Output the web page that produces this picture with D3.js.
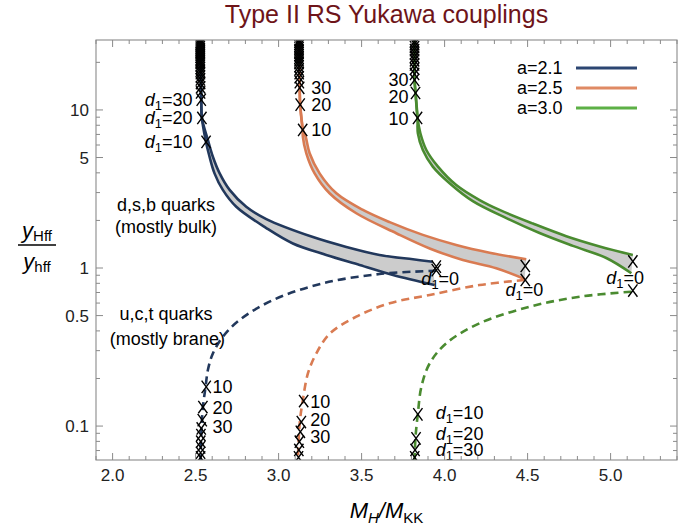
<!DOCTYPE html>
<html>
<head>
<meta charset="utf-8">
<script src="https://cdn.jsdelivr.net/npm/d3@7/dist/d3.min.js"></script>
<style>
  body { margin: 0; background: #fff; }
  text { font-family: "Liberation Sans", Arial, sans-serif; }
</style>
</head>
<body>
<script>
// values: [M_H/M_KK, y_Hff/y_hff]
var seriesNames = ["a=2.1", "a=2.5", "a=3.0"];

// outer edge of each bulk band (right at the top, upper at the end) and inner edge
var blueOuter = [[2.530,27.7],[2.534,11.6],[2.538,8.9],[2.574,6.46],[2.604,5.06],[2.645,3.97],[2.705,3.12],[2.805,2.44],[2.926,2.04],[3.207,1.57],[3.408,1.36],[3.608,1.21],[3.809,1.135],[3.929,1.096]];
var blueInner = [[2.530,27.7],[2.534,11.6],[2.538,8.9],[2.560,6.46],[2.584,5.06],[2.614,3.97],[2.664,3.12],[2.745,2.44],[2.926,1.79],[3.086,1.43],[3.287,1.21],[3.488,1.045],[3.689,0.903],[3.940,0.78]];
var blueBrane = [[3.950,0.961],[3.608,0.916],[3.267,0.80],[2.966,0.627],[2.765,0.469],[2.664,0.367],[2.604,0.288],[2.574,0.226],[2.560,0.177],[2.544,0.132],[2.536,0.099],[2.530,0.061]];

var orangeOuter = [[3.123,27.7],[3.127,13.8],[3.130,10.8],[3.147,7.47],[3.163,6.78],[3.187,5.32],[3.247,3.97],[3.348,2.97],[3.508,2.33],[3.669,1.95],[3.869,1.62],[4.070,1.40],[4.271,1.25],[4.492,1.135]];
var orangeInner = [[3.123,27.7],[3.127,13.8],[3.130,10.8],[3.145,7.47],[3.146,6.78],[3.167,5.32],[3.217,3.97],[3.307,2.97],[3.468,2.22],[3.709,1.66],[3.910,1.33],[4.110,1.124],[4.311,0.996],[4.482,0.852]];
var orangeBrane = [[4.482,0.840],[4.211,0.78],[3.910,0.675],[3.669,0.598],[3.468,0.492],[3.310,0.386],[3.227,0.288],[3.177,0.216],[3.146,0.146],[3.127,0.104],[3.116,0.061]];

var greenOuter = [[3.819,27.7],[3.819,15.5],[3.825,12.8],[3.837,8.9],[3.854,7.12],[3.890,5.58],[3.960,4.38],[4.070,3.35],[4.211,2.69],[4.331,2.33],[4.532,1.91],[4.733,1.59],[4.934,1.37],[5.134,1.21]];
var greenInner = [[3.819,27.7],[3.819,15.5],[3.825,12.8],[3.837,8.9],[3.839,7.12],[3.869,5.58],[3.929,4.38],[4.030,3.44],[4.170,2.65],[4.372,2.07],[4.572,1.665],[4.773,1.38],[4.974,1.157],[5.125,0.926]];
var greenBrane = [[5.125,0.708],[4.813,0.658],[4.512,0.569],[4.211,0.447],[4.010,0.334],[3.910,0.249],[3.860,0.177],[3.839,0.120],[3.825,0.0856],[3.819,0.061]];

// X markers at d1 = 0, 10, 20, 30, ...
var blueMarks = [[3.950,1.02],[3.950,0.97],[2.563,6.28],[2.538,8.9],[2.534,11.6],[2.530,12.9],[2.530,13.9],[2.530,14.8],[2.529,15.6],[2.529,16.3],[2.529,17.1],[2.528,17.7],[2.528,18.4],[2.528,19.1],[2.528,19.8],[2.528,20.3],[2.528,20.9],[2.528,21.6],[2.528,22.2],[2.528,22.9],[2.528,23.5],[2.528,24.2],[2.528,24.9],[2.528,25.7],[2.528,26.4],[2.528,27.2],[2.528,28.0],
  [2.564,0.177],[2.544,0.132],[2.540,0.109],[2.534,0.0966],[2.532,0.0877],[2.531,0.0796],[2.530,0.0733],[2.530,0.0678],[2.530,0.0634]];
var orangeMarks = [[4.486,1.03],[4.486,0.84],[3.145,7.47],[3.130,10.8],[3.127,13.8],[3.125,15.0],[3.124,16.1],[3.124,17.1],[3.123,18.0],[3.123,18.9],[3.123,19.8],[3.123,20.6],[3.123,21.4],[3.123,22.2],[3.123,23.0],[3.123,23.8],[3.123,24.6],[3.123,25.4],[3.123,26.2],[3.123,27.0],[3.123,27.8],
  [3.151,0.144],[3.137,0.106],[3.131,0.092],[3.125,0.0796],[3.122,0.0706],[3.120,0.0634]];
var greenMarks = [[5.134,1.10],[5.134,0.72],[3.837,8.9],[3.825,12.8],[3.819,15.5],[3.819,16.9],[3.819,18.2],[3.819,19.4],[3.819,20.6],[3.819,21.7],[3.819,22.8],[3.819,23.9],[3.819,25.0],[3.819,26.1],[3.819,27.2],
  [3.839,0.1186],[3.828,0.0836],[3.822,0.0706],[3.820,0.0634]];

// d1 labels: [x, y, number, anchor, with "d1=" prefix]
var d1Labels = [
  [2.482,11.6,"30","end",true],[2.482,8.9,"20","end",true],[2.482,6.28,"10","end",true],
  [3.197,13.8,"30","start",false],[3.197,10.8,"20","start",false],[3.197,7.47,"10","start",false],
  [3.783,15.5,"30","end",false],[3.783,12.0,"20","end",false],[3.783,8.8,"10","end",false],
  [2.602,0.176,"10","start",false],[2.602,0.130,"20","start",false],[2.602,0.099,"30","start",false],
  [3.191,0.142,"10","start",false],[3.191,0.110,"20","start",false],[3.191,0.0855,"30","start",false],
  [3.946,0.121,"10","start",true],[3.946,0.0895,"20","start",true],[3.946,0.0705,"30","start",true],
  [3.860,0.848,"0","start",true],[4.367,0.726,"0","start",true],[4.974,0.86,"0","start",true]
];
var noteLines = ["d,s,b quarks", "(mostly bulk)", "u,c,t quarks", "(mostly brane)"];
var notePositions = [[2.322,2.5],[2.322,1.82],[2.322,0.51],[2.330,0.355]];

var xTickValues = [2.0, 2.5, 3.0, 3.5, 4.0, 4.5, 5.0];
var xTickLabels = ["2.0", "2.5", "3.0", "3.5", "4.0", "4.5", "5.0"];
var xMinorValues = [1.9,2.1,2.2,2.3,2.4,2.6,2.7,2.8,2.9,3.1,3.2,3.3,3.4,3.6,3.7,3.8,3.9,4.1,4.2,4.3,4.4,4.6,4.7,4.8,4.9,5.1,5.2,5.3,5.4];
var yTickValues = [0.1, 0.5, 1, 5, 10];
var yTickLabels = ["0.1", "0.5", "1", "5", "10"];
var yMinorValues = [0.07,0.08,0.09,0.2,0.3,0.4,0.6,0.7,0.8,0.9,2,3,4,6,7,8,9,20];

var width = 694;
var height = 530;
var plotLeft = 96, plotRight = 677, plotTop = 40, plotBottom = 460;
var frameColor = "#8a8a8a";
var bandColor = "#cccccc";
var curveColors = ["#22385c", "#d97b52", "#4a8b30"];
var legendColors = ["#2c4672", "#df8a64", "#5db046"];
var fontSize = 18;

var svg = d3.select("body").append("svg")
  .attr("width", width)
  .attr("height", height);

var x = d3.scaleLinear().domain([1.9, 5.4]).range([plotLeft, plotRight]);
var y = d3.scaleLog().domain([0.061, 27.7]).range([plotBottom, plotTop]);

svg.append("defs").append("clipPath")
  .attr("id", "plot-clip")
  .append("rect")
    .attr("x", plotLeft)
    .attr("y", plotTop)
    .attr("width", plotRight - plotLeft)
    .attr("height", plotBottom - plotTop);

var plot = svg.append("g").attr("clip-path", "url(#plot-clip)");

var line = d3.line()
  .x(function(d) { return x(d[0]); })
  .y(function(d) { return y(d[1]); })
  .curve(d3.curveCatmullRom.alpha(0.5));

var bands = [[blueOuter, blueInner], [orangeOuter, orangeInner], [greenOuter, greenInner]];
var branes = [blueBrane, orangeBrane, greenBrane];
var marks = [blueMarks, orangeMarks, greenMarks];

// grey band between the two bulk curves
bands.forEach(function(pair) {
  var outerPath = line(pair[0]);
  var innerPath = line(pair[1].slice().reverse());
  plot.append("path")
    .attr("d", outerPath + "L" + innerPath.slice(1) + "Z")
    .attr("fill", bandColor)
    .attr("stroke", "none");
});

bands.forEach(function(pair, i) {
  pair.forEach(function(curve) {
    plot.append("path")
      .attr("d", line(curve))
      .attr("fill", "none")
      .attr("stroke", curveColors[i])
      .attr("stroke-width", 2.6);
  });
});

branes.forEach(function(curve, i) {
  plot.append("path")
    .attr("d", line(curve))
    .attr("fill", "none")
    .attr("stroke", curveColors[i])
    .attr("stroke-width", 2.6)
    .attr("stroke-dasharray", "8,5");
});

marks.forEach(function(set) {
  plot.selectAll(null)
    .data(set)
    .enter()
    .append("path")
      .attr("transform", function(d) { return "translate(" + x(d[0]) + "," + y(d[1]) + ")"; })
      .attr("d", "M-4.6,-6.2L4.6,6.2M4.6,-6.2L-4.6,6.2")
      .attr("fill", "none")
      .attr("stroke", "#000")
      .attr("stroke-width", 1.4);
});

// labels
var labels = svg.append("g").attr("font-size", fontSize).attr("fill", "#000");
d1Labels.forEach(function(d) {
  var t = labels.append("text")
    .attr("x", x(d[0]))
    .attr("y", y(d[1]) + 6)
    .attr("text-anchor", d[3]);
  if (d[4]) {
    t.append("tspan").attr("font-style", "italic").text("d");
    t.append("tspan").attr("font-size", fontSize * 0.72).attr("dy", 4).text("1");
    t.append("tspan").attr("dy", -4).text("=" + d[2]);
  } else {
    t.text(d[2]);
  }
});

noteLines.forEach(function(s, i) {
  labels.append("text")
    .attr("x", x(notePositions[i][0]))
    .attr("y", y(notePositions[i][1]) + 6)
    .attr("text-anchor", "middle")
    .text(s);
});

// frame and ticks
svg.append("rect")
  .attr("x", plotLeft)
  .attr("y", plotTop)
  .attr("width", plotRight - plotLeft)
  .attr("height", plotBottom - plotTop)
  .attr("fill", "none")
  .attr("stroke", frameColor)
  .attr("stroke-width", 1.1);

var ticks = svg.append("g").attr("stroke", frameColor).attr("stroke-width", 1);
var addXTicks = function(values, len) {
  values.forEach(function(v) {
    ticks.append("line").attr("x1", x(v)).attr("x2", x(v)).attr("y1", plotBottom).attr("y2", plotBottom - len);
    ticks.append("line").attr("x1", x(v)).attr("x2", x(v)).attr("y1", plotTop).attr("y2", plotTop + len);
  });
};
var addYTicks = function(values, len) {
  values.forEach(function(v) {
    ticks.append("line").attr("y1", y(v)).attr("y2", y(v)).attr("x1", plotLeft).attr("x2", plotLeft + len);
    ticks.append("line").attr("y1", y(v)).attr("y2", y(v)).attr("x1", plotRight).attr("x2", plotRight - len);
  });
};
addXTicks(xTickValues, 7);
addXTicks(xMinorValues, 4);
addYTicks(yTickValues, 7);
addYTicks(yMinorValues, 4);

var tickText = svg.append("g").attr("font-size", 17).attr("fill", "#222");
xTickValues.forEach(function(v, i) {
  tickText.append("text")
    .attr("x", x(v))
    .attr("y", plotBottom + 21)
    .attr("text-anchor", "middle")
    .text(xTickLabels[i]);
});
yTickValues.forEach(function(v, i) {
  tickText.append("text")
    .attr("x", plotLeft - 7)
    .attr("y", y(v) + 6)
    .attr("text-anchor", "end")
    .text(yTickLabels[i]);
});

// legend
seriesNames.forEach(function(name, i) {
  var ly = 68 + i * 20;
  svg.append("text")
    .attr("x", 517)
    .attr("y", ly + 6)
    .attr("font-size", fontSize)
    .text(name);
  svg.append("line")
    .attr("x1", 576).attr("x2", 637)
    .attr("y1", ly).attr("y2", ly)
    .attr("stroke", legendColors[i])
    .attr("stroke-width", 3);
});

// title and axis labels
svg.append("text")
  .attr("x", (plotLeft + plotRight) / 2)
  .attr("y", 23)
  .attr("text-anchor", "middle")
  .attr("font-size", 25)
  .attr("fill", "#6e1419")
  .text("Type II RS Yukawa couplings");

var xLabel = svg.append("text")
  .attr("x", (plotLeft + plotRight) / 2)
  .attr("y", 518)
  .attr("text-anchor", "middle")
  .attr("font-size", 22);
xLabel.append("tspan").attr("font-style", "italic").text("M");
xLabel.append("tspan").attr("font-style", "italic").attr("font-size", 15).attr("dy", 5).text("H");
xLabel.append("tspan").attr("font-style", "italic").attr("dy", -5).text("/M");
xLabel.append("tspan").attr("font-size", 15).attr("dy", 5).text("KK");

var yLabel = svg.append("g").attr("font-size", 22);
var num = yLabel.append("text").attr("x", 37).attr("y", 238).attr("text-anchor", "middle");
num.append("tspan").attr("font-style", "italic").text("y");
num.append("tspan").attr("font-size", 15).attr("dy", 3).text("Hff");
var den = yLabel.append("text").attr("x", 37).attr("y", 269).attr("text-anchor", "middle");
den.append("tspan").attr("font-style", "italic").text("y");
den.append("tspan").attr("font-size", 15).attr("dy", 3).text("hff");
yLabel.append("line")
  .attr("x1", 18).attr("x2", 56)
  .attr("y1", 245).attr("y2", 245)
  .attr("stroke", "#000")
  .attr("stroke-width", 1.3);
</script>
</body>
</html>
